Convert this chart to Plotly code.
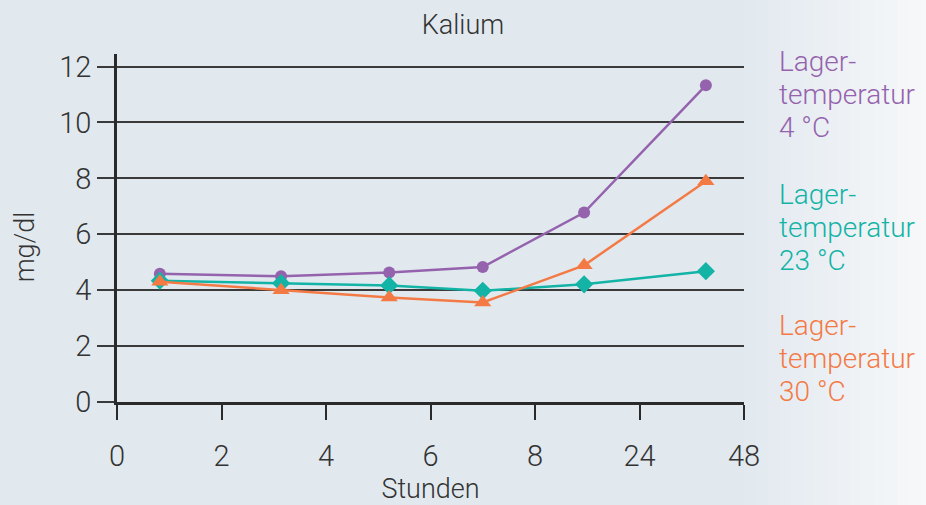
import plotly.graph_objects as go

# x positions on the evenly spaced category scale (0,2,4,6,8,24,48)
x_pos = [0.82, 3.14, 5.21, 7.0, 8.94, 11.27]
tick_vals = [0, 2, 4, 6, 8, 10, 12]
tick_text = ["0", "2", "4", "6", "8", "24", "48"]

kalium_4c = [4.59, 4.50, 4.63, 4.83, 6.78, 11.33]
kalium_23c = [4.34, 4.25, 4.17, 3.98, 4.21, 4.68]
kalium_30c = [4.30, 4.00, 3.74, 3.56, 4.89, 7.90]

label_lines = [["Lager-", "temperatur", "4 °C"],
               ["Lager-", "temperatur", "23 °C"],
               ["Lager-", "temperatur", "30 °C"]]
label_baseline_px = [71, 205, 337]  # pixel baseline of first line of each block
LINE_PX = 33

PURPLE = "#9563ad"
TEAL = "#13b3a6"
ORANGE = "#f47a45"
FONT = "Roboto"
TXT = "#333333"

fig = go.Figure()
series = [
    (kalium_4c, PURPLE, "circle", 12),
    (kalium_23c, TEAL, "diamond", 14),
    (kalium_30c, ORANGE, "triangle-up", 15),
]
for vals, col, sym, sz in series:
    fig.add_trace(go.Scatter(
        x=x_pos, y=vals, mode="lines+markers",
        line=dict(color=col, width=2.5),
        marker=dict(symbol=sym, size=sz, color=col),
        showlegend=False, cliponaxis=False,
    ))

# soft lighter band at the right edge of the background
n = 16
for i in range(n):
    t = (i + 1) / n
    r = int(0xe1 + (0xf7 - 0xe1) * t)
    g = int(0xe9 + (0xf8 - 0xe9) * t)
    b = int(0xef + (0xfa - 0xef) * t)
    fig.add_shape(type="rect", xref="paper", yref="paper",
                  x0=1.0 + i * (0.3 / n), x1=1.0 + (i + 1) * (0.3 / n) + 0.002,
                  y0=-0.3, y1=1.2, fillcolor=f"rgb({r},{g},{b})",
                  line_width=0, layer="below")

# plot area: x 117..744 px, y 54..405 px
PW, PH, TOP = 627, 351, 54


def py(px):
    return 1 - (px - TOP) / PH


for lines, base, col in zip(label_lines, label_baseline_px, [PURPLE, TEAL, ORANGE]):
    for k, line in enumerate(lines):
        fig.add_annotation(text=line, x=1 + 33 / PW, y=py(base + k * LINE_PX - 9),
                           xref="paper", yref="paper",
                           xanchor="left", yanchor="middle", align="left",
                           showarrow=False,
                           font=dict(family=FONT, size=28, color=col, weight=300))

fig.add_annotation(text="mg/dl", textangle=-90, xref="paper", yref="paper",
                   x=-92 / PW, y=py(249), xanchor="center", yanchor="middle",
                   showarrow=False, font=dict(family=FONT, size=27, color=TXT, weight=300))

fig.update_layout(
    width=926, height=505,
    margin=dict(l=117, r=182, t=54, b=100),
    paper_bgcolor="#e1e9ef", plot_bgcolor="rgba(0,0,0,0)",
    font=dict(family=FONT, size=27, color=TXT, weight=300),
    title=dict(text="Kalium", x=0.5, xanchor="center", y=0.952, yanchor="middle",
               font=dict(family=FONT, size=27, color=TXT, weight=300)),
    xaxis=dict(range=[0, 12], tickvals=tick_vals, ticktext=tick_text,
               showgrid=False, zeroline=False, showline=True,
               linecolor="#2a2a2a", linewidth=2.5,
               ticks="outside", ticklen=15, tickwidth=1.5, tickcolor="#2a2a2a",
               ticklabelstandoff=11, tickfont=dict(size=29),
               title=dict(text="Stunden", standoff=2,
                          font=dict(family=FONT, size=27, color=TXT, weight=300))),
    yaxis=dict(range=[0, 12.45], tickvals=[0, 2, 4, 6, 8, 10, 12],
               showgrid=True, gridcolor="#3a3a3a", gridwidth=1.5,
               zeroline=False, showline=True, linecolor="#2a2a2a", linewidth=2.5,
               ticks="outside", ticklen=17, tickwidth=1.5, tickcolor="#3a3a3a",
               tickfont=dict(size=29)),
)

fig.write_html("out.html", config={"displayModeBar": False},
               post_script="document.body.style.margin='0';")
